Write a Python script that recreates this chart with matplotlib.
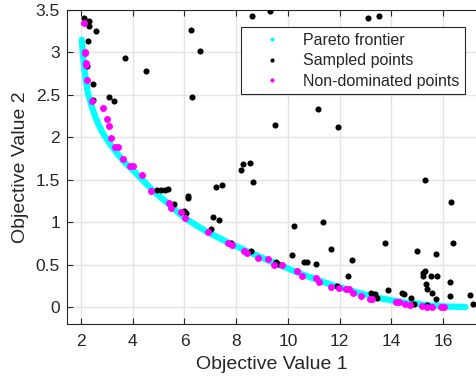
import matplotlib
matplotlib.use("Agg")
import matplotlib.pyplot as plt
from matplotlib.lines import Line2D

plt.rcParams['font.family'] = ['Liberation Sans', 'DejaVu Sans']

# pareto frontier
front_x = [2.03, 2.07, 2.12, 2.18, 2.27, 2.40, 2.58, 2.80, 3.10, 3.40, 3.70, 4.05, 4.40, 4.75,
           5.40, 6.00, 6.85, 7.75, 8.55, 9.55, 10.60, 11.60, 12.70, 13.60, 14.60, 15.50, 16.20, 16.86]
front_y = [3.15, 3.00, 2.85, 2.68, 2.52, 2.38, 2.22, 2.07, 1.93, 1.81, 1.70, 1.60, 1.49, 1.38,
           1.21, 1.05, 0.89, 0.75, 0.64, 0.51, 0.38, 0.27, 0.17, 0.10, 0.05, 0.02, 0.005, 0.0]

# sampled points
sampled_x = [2.13, 2.30, 2.32, 2.57, 2.28, 2.22, 2.45, 2.48, 3.10, 3.28, 3.70, 4.51, 6.24, 6.61,
             6.29, 8.63, 9.30, 13.11, 13.52, 11.18, 9.50, 11.92,
             4.92, 5.10, 5.24, 5.36, 5.61, 6.13, 6.14, 6.00, 6.07, 7.22, 7.47, 8.18, 8.26, 8.54,
             8.64, 7.12, 7.33, 7.04, 7.80, 8.56,
             10.24, 11.36, 10.17, 9.54, 9.62, 10.64, 10.74, 11.66, 11.10, 12.48, 12.34, 13.76,
             15.31, 16.30, 16.38, 14.99, 15.72,
             15.31, 15.24, 15.22, 15.54, 15.78, 16.26, 15.34, 15.37, 15.57, 15.73, 16.26, 17.03,
             17.15, 13.86, 14.41, 14.47, 14.77, 14.89, 13.23, 13.37, 13.45, 11.89, 11.93, 15.36]
sampled_y = [3.41, 3.37, 3.31, 3.25, 3.13, 2.84, 2.63, 2.44, 2.48, 2.43, 2.94, 2.78, 3.27, 3.02,
             2.47, 3.43, 3.49, 3.40, 3.43, 2.33, 2.14, 2.12,
             1.38, 1.38, 1.38, 1.39, 1.21, 1.31, 1.28, 1.13, 1.11, 1.41, 1.44, 1.61, 1.68, 1.70,
             1.47, 1.06, 1.03, 0.92, 0.76, 0.66,
             0.96, 1.00, 0.61, 0.53, 0.51, 0.53, 0.53, 0.68, 0.51, 0.56, 0.37, 0.75,
             1.50, 1.24, 0.76, 0.66, 0.63,
             0.43, 0.40, 0.37, 0.36, 0.36, 0.30, 0.27, 0.21, 0.16, 0.09, 0.13, 0.14,
             0.03, 0.20, 0.16, 0.15, 0.11, 0.04, 0.17, 0.15, 0.11, 0.25, 0.24, 0.02]

# non-dominated points
nondom_x = [2.12, 2.14, 2.16, 2.18, 2.18, 2.22, 2.43, 2.84, 2.99, 3.08, 3.15, 3.32, 3.42, 3.64,
            3.90, 4.02, 4.35, 4.72, 5.40, 5.47, 5.87, 6.03, 6.92, 7.70, 7.84, 8.32, 8.43, 8.86,
            9.23, 9.47, 9.79, 10.34, 10.55, 11.09, 11.22, 11.67, 11.99, 12.24, 12.38, 12.53,
            12.81, 13.18, 13.24, 14.17, 14.31, 14.52, 14.70, 15.18, 15.37, 15.57, 15.93, 16.04]
nondom_y = [3.35, 3.01, 2.99, 2.88, 2.85, 2.68, 2.43, 2.35, 2.22, 2.13, 1.99, 1.88, 1.88, 1.74,
            1.66, 1.66, 1.55, 1.37, 1.23, 1.17, 1.12, 1.05, 0.88, 0.75, 0.73, 0.66, 0.64, 0.58,
            0.57, 0.50, 0.50, 0.42, 0.37, 0.34, 0.29, 0.24, 0.22, 0.21, 0.21, 0.16,
            0.13, 0.10, 0.10, 0.06, 0.06, 0.04, 0.02, 0.01, 0.00, 0.00, 0.00, 0.00]

xticks = [2, 4, 6, 8, 10, 12, 14, 16]
yticks = [0, 0.5, 1, 1.5, 2, 2.5, 3, 3.5]
ytick_labels = ['0', '0.5', '1', '1.5', '2', '2.5', '3', '3.5']

legend_labels = ['Pareto frontier', 'Sampled points', 'Non-dominated points']

txt = '0.15'

fig = plt.figure(figsize=(4.76, 3.82), dpi=100)
ax = fig.add_axes([67/476, 58/382, 409/476, 314/382])

ax.plot(front_x, front_y, color='cyan', lw=4.5, solid_capstyle='round', zorder=2)
ax.plot(sampled_x, sampled_y, 'o', color='black', ms=4.4, mew=0, zorder=3)
ax.plot(nondom_x, nondom_y, 'o', color='magenta', ms=5, mew=0, zorder=4)

ax.set_xlim(1.46, 17.27)
ax.set_ylim(-0.2, 3.5)
ax.set_xticks(xticks)
ax.set_yticks(yticks)
ax.set_yticklabels(ytick_labels)

ax.grid(True, color='#e3e3e3', lw=1)
ax.set_axisbelow(True)
ax.tick_params(direction='in', length=4, width=0.8, color=txt, labelcolor=txt,
               labelsize=12.5, top=True, right=False)
ax.tick_params(axis='x', pad=7)
ax.tick_params(axis='y', pad=5)
for s in ['left', 'bottom', 'top']:
    ax.spines[s].set_color(txt)
    ax.spines[s].set_linewidth(0.8)
ax.spines['right'].set_visible(False)

ax.set_xlabel('Objective Value 1', fontsize=14, color=txt, labelpad=5)
ax.set_ylabel('Objective Value 2', fontsize=14, color=txt, labelpad=5)

# matlab style legend: marker sits in the middle of a wide handle
handles = [Line2D([], [], color='cyan', marker='.', ls='None', ms=4),
           Line2D([], [], color='black', marker='.', ls='None', ms=4),
           Line2D([], [], color='magenta', marker='.', ls='None', ms=4)]
leg = ax.legend(handles, legend_labels, loc='upper right', bbox_to_anchor=(0.973, 0.946),
                borderaxespad=0, fontsize=11.5, frameon=True, fancybox=False, framealpha=1,
                handlelength=3.2, handletextpad=0.35, labelspacing=0.35, borderpad=0.35)
leg.get_frame().set_edgecolor(txt)
leg.get_frame().set_linewidth(0.8)
for t in leg.get_texts():
    t.set_color(txt)

fig.savefig('out.png', dpi=100)
